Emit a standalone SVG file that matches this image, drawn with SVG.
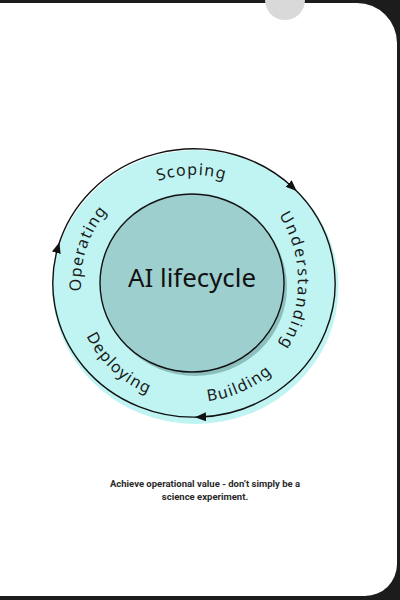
<svg xmlns="http://www.w3.org/2000/svg" width="400" height="600" viewBox="0 0 400 600">
<style>
.lbl{font-family:"Noto Sans","DejaVu Sans",sans-serif;font-size:16px;fill:#1a1a1a;letter-spacing:1.2px}
.title{font-family:"Noto Sans","DejaVu Sans",sans-serif;font-size:26px;fill:#111}
.cap{font-family:Roboto,"Noto Sans",sans-serif;font-size:9.5px;font-weight:700;fill:#2a2a2a;text-anchor:middle}
.conn{fill:none;stroke:#111;stroke-width:1.4;marker-end:url(#arr)}
</style>
<defs>
<marker id="arr" markerUnits="userSpaceOnUse" markerWidth="12" markerHeight="10" refX="6" refY="4.5" orient="auto">
<path d="M0,0 L11,4.5 L0,9 Z" fill="#111"/>
</marker>
<path id="pScoping" d="M100.5,229 A108,108 0 0 1 287.5,229"/>
<path id="pUnder" d="M269.2,201.9 A123,123 0 0 1 269.2,360.1"/>
<path id="pOper" d="M110,358.6 A112,112 0 0 1 170.7,173.5"/>
<path id="pDeploy" d="M77.1,256 A120,120 0 0 0 229.1,397.7"/>
<path id="pBuild" d="M124,379.3 A119,119 0 0 0 312.3,295.4"/>
</defs>
<rect x="0" y="0" width="400" height="600" fill="#1c1c1c"/>
<path d="M0,3 H357 A40,40 0 0 1 397,43 V564 A32,32 0 0 1 365,596 H0 Z" fill="#ffffff"/>
<circle cx="285" cy="0" r="20" fill="#d9d9d9"/>
<g id="ring">
<ellipse cx="195.5" cy="287" rx="143" ry="137" fill="#bff4f2"/>
</g>
<g id="connectors">
<path class="conn" d="M58,247 A141,134 0 0 1 293,187.6"/>
<path class="conn" d="M293,187.6 A141,134 0 0 1 200,417"/>
<path class="conn" d="M200,417 A141,134 0 0 1 58,247"/>
</g>
<g id="core">
<ellipse cx="195" cy="287" rx="92" ry="89" fill="#8ebfbf"/>
<ellipse cx="192" cy="283" rx="92" ry="89" fill="#9dcfcf" stroke="#111" stroke-width="1.4"/>
<text class="title" x="192" y="287" text-anchor="middle" textLength="128" lengthAdjust="spacingAndGlyphs">AI lifecycle</text>
</g>
<g id="scoping"><text class="lbl"><textPath href="#pScoping" startOffset="49%" text-anchor="middle">Scoping</textPath></text></g>
<g id="understanding"><text class="lbl" style="letter-spacing:2px"><textPath href="#pUnder" startOffset="50%" text-anchor="middle">Understanding</textPath></text></g>
<g id="building"><text class="lbl"><textPath href="#pBuild" startOffset="50%" text-anchor="middle">Building</textPath></text></g>
<g id="deploying"><text class="lbl"><textPath href="#pDeploy" startOffset="50%" text-anchor="middle">Deploying</textPath></text></g>
<g id="operating"><text class="lbl"><textPath href="#pOper" startOffset="50%" text-anchor="middle">Operating</textPath></text></g>
<g id="caption">
<text class="cap" x="205" y="487">Achieve operational value - don’t simply be a</text>
<text class="cap" x="205" y="500">science experiment.</text>
</g>
</svg>
